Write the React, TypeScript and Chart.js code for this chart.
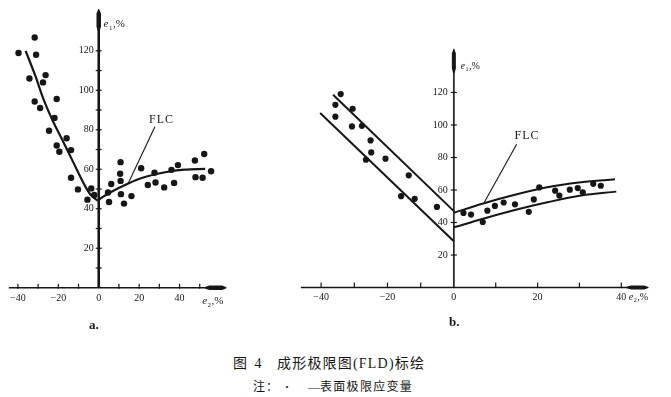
import React, { useEffect, useRef } from 'react';
import { Chart, registerables, LinearScale } from 'chart.js';

// ---------------- Chart a data ----------------
const aPoints: [number, number][] = [
  [-39.7, 118.9], [-31.7, 126.7], [-31, 118], [-34.3, 106], [-26.3, 107.7], [-27.6, 104],
  [-31.7, 94.3], [-29, 91], [-20.8, 95.6], [-21.9, 86], [-24.6, 79.5], [-15.9, 75.7],
  [-20.8, 72], [-19.5, 68.9], [-13.7, 69.7], [-13.7, 55.7], [-10.3, 49.8], [-3.7, 50.3],
  [-5.6, 44.6], [-2.2, 47], [4.6, 48.2], [5.1, 43.4], [6.2, 52.5], [10.8, 63.6],
  [10.6, 57.7], [10.8, 54.1], [11, 47.4], [12.5, 42.6], [16.2, 46.4], [21, 60.5],
  [24.3, 52], [27.6, 58.2], [28.1, 53.3], [32.4, 50.8], [36, 59.7], [37.3, 53.1],
  [39.2, 62.1], [47.6, 64.4], [47.9, 56], [51.4, 55.7], [52.2, 67.7], [55.6, 59],
];
const aCurveLeft: [number, number][] = [
  [-36.2, 120], [-31.4, 107.4], [-27.5, 95.9], [-22.7, 84.4], [-17.9, 74.6],
  [-12.4, 63.1], [-6.8, 51.6], [-3.7, 46.7], [-0.5, 44.1],
];
const aCurveRight: [number, number][] = [
  [-0.5, 44.1], [1.1, 45.4], [5.9, 48.4], [14.6, 52.8], [21.7, 55.7],
  [32.9, 58.5], [42.4, 59.8], [52.7, 60.2],
];
const aLeader: [number, number][] = [[14.5, 52.7], [27.8, 81.5]];
const aFlcLabelAt: [number, number] = [24.9, 84.9];
const aXTickLabels = [-40, -20, 0, 20, 40];
const aYTickLabels = [20, 40, 60, 80, 100, 120];
const aXTickMarks = [-40, -30, -20, -10, 10, 20, 30, 40, 50];
const aYTickMarks = [10, 20, 30, 40, 50, 60, 70, 80, 90, 100, 110, 120];

// ---------------- Chart b data ----------------
const bPoints: [number, number][] = [
  [-34.1, 119], [-35.7, 112.4], [-30.5, 110], [-35.7, 105.1], [-30.7, 99.1], [-27.7, 99.5],
  [-25.1, 90.5], [-24.9, 83.1], [-26.5, 78.6], [-20.6, 79.3], [-13.6, 69], [-15.9, 56.2],
  [-11.8, 54.6], [-5.1, 49.6],
  [2.3, 45.9], [4.1, 44.9], [6.9, 40.3], [8, 47.3], [9.8, 50.2], [11.9, 52.3], [14.6, 51.2],
  [17.9, 46.6], [19.1, 54.2], [20.4, 61.6], [24.2, 59.6], [25.2, 56.6], [27.7, 60.2],
  [29.6, 61.2], [30.8, 58.6], [33.3, 63.8], [35.1, 62.6],
];
const bUpperLeft: [number, number][] = [[-36.4, 118.6], [0, 47]];
const bLowerLeft: [number, number][] = [[-40.3, 107.4], [0, 28.5]];
const bUpperRight: [number, number][] = [
  [0, 46], [7, 51.7], [14.8, 57.2], [22.6, 61.8], [30.4, 64.8], [38.5, 66.6],
];
const bLowerRight: [number, number][] = [
  [0, 37], [7, 42.3], [14.8, 47.8], [22.6, 52.6], [30.4, 56.6], [38.8, 59],
];
const bLeader: [number, number][] = [[7.25, 52.3], [15.0, 88.1]];
const bFlcLabelAt: [number, number] = [14.5, 93.1];
const bXTickLabels = [-40, -20, 0, 20, 40];
const bYTickLabels = [20, 40, 60, 80, 100, 120];
const bXTickMarks = [-40, -30, -20, -10, 10, 20, 30, 40];
const bYTickMarks = [20, 40, 60, 80, 100, 120];

const INK = '#161616';
const SERIF = '"Liberation Serif", "DejaVu Serif", serif';

// Linear scale whose negative and positive halves have different unit lengths
class SplitLinearScale extends LinearScale {
  static id = 'splitLinear';
  static defaults = LinearScale.defaults;
  zf(): number {
    const z = (this.options as any).zeroFraction;
    return typeof z === 'number' ? z : 0.5;
  }
  getPixelForValue(value: number) {
    const z = this.zf();
    const lo = this.min, hi = this.max;
    const d = value < 0 ? (z * (value - lo)) / (0 - lo) : z + (1 - z) * (value / hi);
    return this.getPixelForDecimal(d);
  }
  getValueForPixel(pixel: number) {
    const z = this.zf();
    const d = this.getDecimalForPixel(pixel);
    return d < z ? this.min + (d / z) * (0 - this.min) : ((d - z) / (1 - z)) * this.max;
  }
}
Chart.register(...registerables, SplitLinearScale);

type Frame = {
  name: string;
  xLine: [number, number]; xArrow: [number, number]; xAxisWidth: number;
  yLine: [number, number]; yArrow: [number, number]; yAxisWidth: number;
  arrowWidth: number;
  xTickMarks: number[]; xTickUp: number; xTickDown: number;
  yTickMarks: number[]; yTickHalf: number;
  xLabels: number[]; xLabelGap: number;
  yLabels: number[]; yLabelGap: number;
  tickFont: string;
  e1At: [number, number]; e2At: [number, number]; titleSize: number;
  flcAt: [number, number]; flcFont: string;
};

const fmt = (v: number) => (v < 0 ? '\u2212' + Math.abs(v) : String(v));

function spindle(ctx: CanvasRenderingContext2D, x1: number, y1: number, x2: number, y2: number, w: number) {
  const dx = x2 - x1, dy = y2 - y1;
  const len = Math.hypot(dx, dy) || 1;
  const nx = -dy / len, ny = dx / len;
  const prof: [number, number][] = [[0, 0.8], [0.2, w / 2], [0.8, w / 2], [1, 0.4]];
  ctx.beginPath();
  prof.forEach(([t, h], i) => {
    const px = x1 + dx * t + nx * h, py = y1 + dy * t + ny * h;
    if (i === 0) ctx.moveTo(px, py); else ctx.lineTo(px, py);
  });
  for (let i = prof.length - 1; i >= 0; i--) {
    const [t, h] = prof[i];
    ctx.lineTo(x1 + dx * t - nx * h, y1 + dy * t - ny * h);
  }
  ctx.closePath();
  ctx.fill();
}

function axisTitle(ctx: CanvasRenderingContext2D, px: number, py: number, sub: string, size: number) {
  ctx.textAlign = 'left';
  ctx.textBaseline = 'alphabetic';
  ctx.font = `italic ${size}px ${SERIF}`;
  ctx.fillText('e', px, py);
  const w1 = ctx.measureText('e').width;
  ctx.font = `${Math.round(size * 0.62)}px ${SERIF}`;
  ctx.fillText(sub, px + w1 + 0.5, py + size * 0.22);
  const w2 = ctx.measureText(sub).width;
  ctx.font = `${size}px ${SERIF}`;
  ctx.fillText(',%', px + w1 + w2 + 1, py);
}

function makeFramePlugin(f: Frame) {
  return {
    id: 'frame_' + f.name,
    afterDatasetsDraw(chart: any) {
      const ctx: CanvasRenderingContext2D = chart.ctx;
      const xs = chart.scales.x, ys = chart.scales.y;
      const X = (v: number) => xs.getPixelForValue(v);
      const Y = (v: number) => ys.getPixelForValue(v);
      const x0 = X(0), y0 = Y(0);
      const line = (a: number, b: number, c: number, d: number) => {
        ctx.beginPath(); ctx.moveTo(a, b); ctx.lineTo(c, d); ctx.stroke();
      };
      ctx.save();
      ctx.strokeStyle = INK;
      ctx.fillStyle = INK;
      ctx.lineCap = 'butt';
      ctx.lineWidth = f.xAxisWidth;
      line(X(f.xLine[0]), y0, X(f.xLine[1]), y0);
      ctx.lineWidth = f.yAxisWidth;
      line(x0, Y(f.yLine[0]), x0, Y(f.yLine[1]));
      spindle(ctx, X(f.xArrow[0]), y0, X(f.xArrow[1]), y0, f.arrowWidth);
      spindle(ctx, x0, Y(f.yArrow[0]), x0, Y(f.yArrow[1]), f.arrowWidth);
      ctx.lineWidth = 1.2;
      f.xTickMarks.forEach((v) => line(X(v), y0 - f.xTickUp, X(v), y0 + f.xTickDown));
      f.yTickMarks.forEach((v) => line(x0 - f.yTickHalf, Y(v), x0 + f.yTickHalf, Y(v)));
      ctx.font = f.tickFont;
      ctx.textAlign = 'center';
      ctx.textBaseline = 'top';
      f.xLabels.forEach((v) => ctx.fillText(fmt(v), X(v), y0 + f.xLabelGap));
      ctx.textAlign = 'right';
      ctx.textBaseline = 'middle';
      f.yLabels.forEach((v) => ctx.fillText(fmt(v), x0 - f.yLabelGap, Y(v)));
      axisTitle(ctx, X(f.e1At[0]), Y(f.e1At[1]), '1', f.titleSize);
      axisTitle(ctx, X(f.e2At[0]), Y(f.e2At[1]), '2', f.titleSize);
      ctx.font = f.flcFont;
      (ctx as any).letterSpacing = '1px';
      ctx.textAlign = 'left';
      ctx.textBaseline = 'middle';
      ctx.fillText('FLC', X(f.flcAt[0]), Y(f.flcAt[1]));
      ctx.restore();
    },
  };
}

const pts = (arr: [number, number][]) => arr.map(([x, y]) => ({ x, y }));

const lineDs = (arr: [number, number][], width: number, smooth: boolean) => ({
  data: pts(arr),
  showLine: true,
  pointRadius: 0,
  borderColor: INK,
  borderWidth: width,
  cubicInterpolationMode: smooth ? 'monotone' : 'default',
  tension: 0,
  fill: false,
});

const dotDs = (arr: [number, number][], r: number) => ({
  data: pts(arr),
  showLine: false,
  pointRadius: r,
  pointBackgroundColor: INK,
  pointBorderWidth: 0,
  backgroundColor: INK,
  borderWidth: 0,
});

const baseOptions = {
  responsive: false,
  animation: false,
  events: [],
  layout: { padding: 0 },
  plugins: { legend: { display: false }, tooltip: { enabled: false }, title: { display: false } },
};

function configA(): any {
  return {
    type: 'scatter',
    data: {
      datasets: [
        dotDs(aPoints, 3.2),
        lineDs(aCurveLeft, 2.2, true),
        lineDs(aCurveRight, 2.2, true),
        lineDs(aLeader, 1.1, false),
      ],
    },
    options: {
      ...baseOptions,
      scales: {
        x: { type: 'linear', display: false, min: -46.89, max: 67.94 },
        y: { type: 'linear', display: false, min: -14.32, max: 143.7 },
      },
    },
    plugins: [
      makeFramePlugin({
        name: 'a',
        xLine: [-44.5, 56], xArrow: [52.6, 63.2], xAxisWidth: 1.6,
        yLine: [0, 131], yArrow: [129.9, 141.2], yAxisWidth: 2.6,
        arrowWidth: 4.5,
        xTickMarks: aXTickMarks, xTickUp: 4, xTickDown: 1,
        yTickMarks: aYTickMarks, yTickHalf: 3,
        xLabels: aXTickLabels, xLabelGap: 6,
        yLabels: aYTickLabels, yLabelGap: 5,
        tickFont: `10px ${SERIF}`,
        e1At: [2.4, 131.9], e2At: [51.2, -8.4], titleSize: 11,
        flcAt: aFlcLabelAt, flcFont: `12px ${SERIF}`,
      }),
    ],
  };
}

function configB(): any {
  return {
    type: 'scatter',
    data: {
      datasets: [
        dotDs(bPoints, 3.1),
        lineDs(bUpperLeft, 2, false),
        lineDs(bLowerLeft, 2, false),
        lineDs(bUpperRight, 2, true),
        lineDs(bLowerRight, 2, true),
        lineDs(bLeader, 1.1, false),
      ],
    },
    options: {
      ...baseOptions,
      scales: {
        x: { type: 'splitLinear', display: false, min: -48.17, max: 50.92, zeroFraction: 0.4286 },
        y: { type: 'linear', display: false, min: -17.52, max: 152.9 },
      },
    },
    plugins: [
      makeFramePlugin({
        name: 'b',
        xLine: [-46.1, 43], xArrow: [41.3, 46.5], xAxisWidth: 1.6,
        yLine: [0, 134], yArrow: [132, 146.9], yAxisWidth: 1.6,
        arrowWidth: 4,
        xTickMarks: bXTickMarks, xTickUp: 5, xTickDown: 0.5,
        yTickMarks: bYTickMarks, yTickHalf: 3,
        xLabels: bXTickLabels, xLabelGap: 5,
        yLabels: bYTickLabels, yLabelGap: 6,
        tickFont: `10px ${SERIF}`,
        e1At: [1.6, 134.4], e2At: [41.8, -7.65], titleSize: 10,
        flcAt: bFlcLabelAt, flcFont: `12px ${SERIF}`,
      }),
    ],
  };
}

function ChartBox(props: { make: () => any; left: number; top: number; width: number; height: number }) {
  const ref = useRef<HTMLCanvasElement>(null);
  useEffect(() => {
    const chart = new Chart(ref.current as HTMLCanvasElement, props.make());
    return () => chart.destroy();
  }, []);
  return (
    <canvas
      ref={ref}
      width={props.width}
      height={props.height}
      style={{ position: 'absolute', left: props.left, top: props.top, width: props.width, height: props.height }}
    />
  );
}

const CJK = '"Liberation Serif", "Noto Sans CJK SC", serif';

function Txt(props: { left: number; top: number; size: number; children: any; spacing?: number; weight?: number }) {
  return (
    <div
      style={{
        position: 'absolute',
        left: props.left,
        top: props.top,
        fontSize: props.size,
        lineHeight: `${props.size}px`,
        fontFamily: CJK,
        fontWeight: props.weight ?? 400,
        letterSpacing: props.spacing ?? 0,
        whiteSpace: 'nowrap',
        color: INK,
      }}
    >
      {props.children}
    </div>
  );
}

export default function App() {
  return (
    <div style={{ position: 'absolute', left: 0, top: 0, width: 671, height: 397, background: '#fff', overflow: 'hidden' }}>
      <ChartBox make={configA} left={0} top={0} width={240} height={320} />
      <ChartBox make={configB} left={290} top={35} width={381} height={285} />
      <Txt left={89} top={318} size={13} weight={700}>a.</Txt>
      <Txt left={449} top={315} size={13} weight={700}>b.</Txt>
      <Txt left={233} top={357} size={14} spacing={2}>图 4</Txt>
      <Txt left={277} top={357} size={14} spacing={1.2}>成形极限图(FLD)标绘</Txt>
      <Txt left={253} top={381} size={12} spacing={1}>注：</Txt>
      <Txt left={285} top={381} size={12} weight={700}>·</Txt>
      <Txt left={308} top={381} size={12}>—</Txt>
      <Txt left={320} top={381} size={12} spacing={1.3}>表面极限应变量</Txt>
    </div>
  );
}
